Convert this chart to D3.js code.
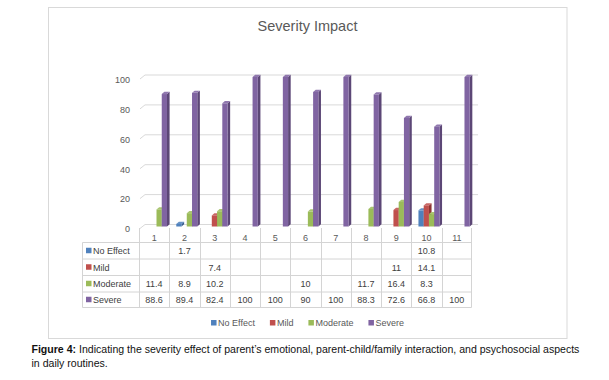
<!DOCTYPE html>
<html><head><meta charset="utf-8">
<script src="https://cdn.jsdelivr.net/npm/d3@7"></script>
<style>
html,body{margin:0;padding:0;background:#fff;}
svg{display:block;}
</style>
</head><body>
<svg id="c" width="609" height="380"></svg>
<script>
const categories = ["1","2","3","4","5","6","7","8","9","10","11"];
const seriesNames = ["No Effect","Mild","Moderate","Severe"];
const noEffect = [null,1.7,null,null,null,null,null,null,null,10.8,null];
const mild = [null,null,7.4,null,null,null,null,null,11,14.1,null];
const moderate = [11.4,8.9,10.2,null,null,10,null,11.7,16.4,8.3,null];
const severe = [88.6,89.4,82.4,100,100,90,100,88.3,72.6,66.8,100];
const yTicks = [0,20,40,60,80,100];
const colors = ["#4f81bd","#c0504d","#9bbb59","#8064a2"];
const title = "Severity Impact";
const captionBold = "Figure 4:";
const captionRest1 = " Indicating the severity effect of parent’s emotional, parent-child/family interaction, and psychosocial aspects";
const captionLine2 = "in daily routines.";

const seriesValues = [noEffect, mild, moderate, severe];
const svg = d3.select("#c");
const FONT = "'Liberation Sans', Arial, sans-serif";

// frame
svg.append("rect").attr("x",48.5).attr("y",7.5).attr("width",518.5).attr("height",331)
  .attr("fill","#fff").attr("stroke","#d9d9d9");

// title
svg.append("text").attr("x",307.5).attr("y",31).attr("text-anchor","middle")
  .attr("font-family",FONT).attr("font-size",14.5).attr("fill","#595959").text(title);

const x = d3.scaleBand().domain(categories).range([139,472]).paddingInner(0).paddingOuter(0);
const xs = d3.scaleBand().domain(seriesNames).range([7,28]);
const y = d3.scaleLinear().domain([0,100]).range([226.5,77]);
const dx = 2.6, dy = 2.2;

// gridlines (3D back wall)
const grid = svg.append("g");
yTicks.forEach(t=>{
  const yy = y(t);
  grid.append("path")
    .attr("d",`M140,${yy+2}L145,${yy-2}L478,${yy-2}`)
    .attr("fill","none").attr("stroke","#d9d9d9").attr("stroke-width",1);
});
// y axis labels
const yAxis = d3.axisLeft(y).tickValues(yTicks).tickSize(0).tickPadding(0);
const ya = svg.append("g").attr("transform","translate(130,2.5)").call(yAxis);
ya.select(".domain").remove();
ya.selectAll("text").attr("font-family",FONT).attr("font-size",9).attr("fill","#595959");

// bars
function shade(c,k){const h=d3.hsl(c); h.l=h.l*k; return h.formatHex();}
const bars = svg.append("g");
seriesNames.forEach((s,si)=>{
  seriesValues[si].forEach((v,ci)=>{
    if(v==null) return;
    const x0 = x(categories[ci]) + xs(s);
    const w = xs.bandwidth();
    const y0 = y(v), y1 = y(0);
    const g = bars.append("g");
    g.append("path").attr("d",`M${x0+w},${y0}L${x0+w+dx},${y0-dy}L${x0+w+dx},${y1-dy}L${x0+w},${y1}Z`)
      .attr("fill",shade(colors[si],0.72));
    g.append("path").attr("d",`M${x0},${y0}L${x0+dx},${y0-dy}L${x0+w+dx},${y0-dy}L${x0+w},${y0}Z`)
      .attr("fill",shade(colors[si],1.12));
    g.append("rect").attr("x",x0).attr("y",y0).attr("width",w).attr("height",y1-y0)
      .attr("fill",colors[si]);
  });
});

// data table
const rowTops = [242.5,259,275.5,292,307.5];
const tbl = svg.append("g").attr("stroke","#d4d4d4").attr("stroke-width",1);
categories.forEach((c,i)=>{
  const xx = Math.round(x(c))+0.5;
  tbl.append("line").attr("x1",xx).attr("x2",xx).attr("y1",228).attr("y2",rowTops[4]);
});
tbl.append("line").attr("x1",471.5).attr("x2",471.5).attr("y1",228).attr("y2",rowTops[4]);
tbl.append("line").attr("x1",82.5).attr("x2",82.5).attr("y1",rowTops[0]).attr("y2",rowTops[4]);
rowTops.forEach(r=>{
  tbl.append("line").attr("x1",82.5).attr("x2",471.5).attr("y1",r).attr("y2",r);
});
// category labels
svg.append("g").selectAll("text").data(categories).join("text")
  .attr("x",d=>x(d)+x.bandwidth()/2).attr("y",240.5).attr("text-anchor","middle")
  .attr("font-family",FONT).attr("font-size",9).attr("fill","#595959").text(d=>d);
// row labels & values
seriesNames.forEach((s,si)=>{
  const cy = (rowTops[si]+rowTops[si+1])/2;
  svg.append("rect").attr("x",86).attr("y",cy-3).attr("width",5.5).attr("height",5.5).attr("fill",colors[si]);
  svg.append("text").attr("x",93).attr("y",cy+3.3).attr("font-family",FONT).attr("font-size",9)
    .attr("fill","#404040").text(s);
  svg.append("g").selectAll("text").data(seriesValues[si].map((v,i)=>({v,c:categories[i]})).filter(d=>d.v!=null))
    .join("text").attr("x",d=>x(d.c)+x.bandwidth()/2).attr("y",cy+3.3).attr("text-anchor","middle")
    .attr("font-family",FONT).attr("font-size",9).attr("fill","#404040").text(d=>d.v);
});

// legend
const leg = svg.append("g");
let lx = 0;
seriesNames.forEach((s,si)=>{
  const g = leg.append("g").attr("transform",`translate(${lx},0)`);
  g.append("rect").attr("x",0).attr("y",-3).attr("width",5.5).attr("height",5.5).attr("fill",colors[si]);
  const t = g.append("text").attr("x",7).attr("y",3.2).attr("font-family",FONT).attr("font-size",9)
    .attr("fill","#595959").text(s);
  lx += 7 + t.node().getComputedTextLength() + 15;
});
const lw = lx - 15;
leg.attr("transform",`translate(${307.5 - lw/2},323)`);

// caption
const cap = svg.append("g");
const t1 = cap.append("text").attr("x",0).attr("y",353.3).attr("font-family",FONT).attr("font-size",11).attr("fill","#111");
t1.append("tspan").attr("font-weight","bold").text(captionBold);
t1.append("tspan").text(captionRest1);
cap.append("text").attr("x",0).attr("y",366.7).attr("font-family",FONT).attr("font-size",11).attr("fill","#111").text(captionLine2);
const natural = t1.node().getComputedTextLength();
const k = 549/natural;
cap.attr("transform",`translate(31.5,0) scale(${k},1)`);
</script>
</body></html>
